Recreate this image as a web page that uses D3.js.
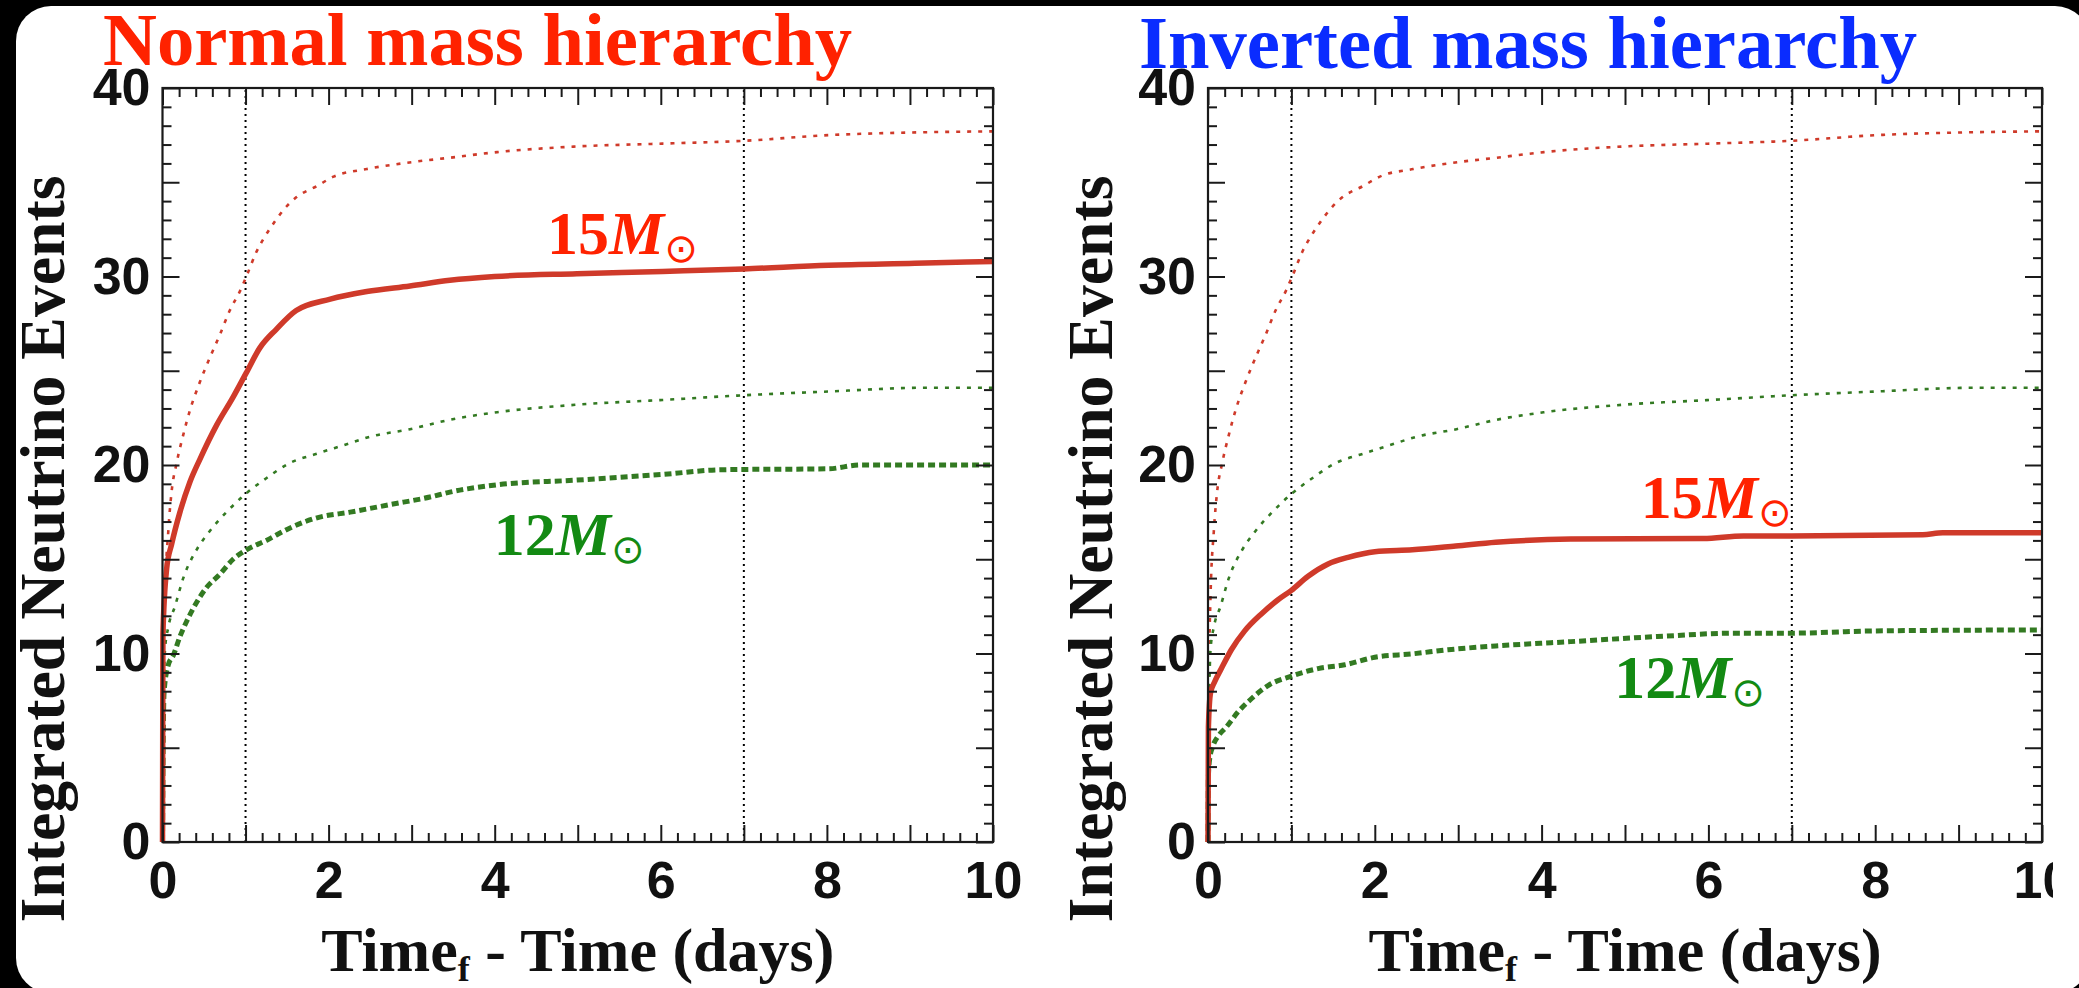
<!DOCTYPE html>
<html>
<head>
<meta charset="utf-8">
<script src="https://cdn.jsdelivr.net/npm/d3@7"></script>
<style>
  html, body { margin: 0; padding: 0; background: #000; }
  svg { display: block; }
</style>
</head>
<body>
<script>
// tick labels and reference markers
const xTickLabels = [0, 2, 4, 6, 8, 10];
const yTickLabels = [0, 10, 20, 30, 40];
const markerDays = [1, 7];
const panelTitles = ['Normal mass hierarchy', 'Inverted mass hierarchy'];
const massNames = ['15', '12'];

// [days, integrated events]; the thin upper curves are the same on both panels
const upperRed15 = [[0, 0], [0.01, 8], [0.03, 13], [0.07, 16.5], [0.11, 18.6], [0.17, 20.1], [0.25, 21.6],
  [0.33, 22.9], [0.45, 24.4], [0.59, 25.9], [0.69, 26.9], [0.81, 28.2], [0.93, 29.2], [1.01, 30.0],
  [1.13, 31.3], [1.23, 32.1], [1.35, 32.9], [1.49, 33.7], [1.61, 34.2], [1.86, 34.8], [2.06, 35.3],
  [2.46, 35.7], [3.06, 36.1], [3.46, 36.3], [4.03, 36.6], [4.99, 36.9], [6.02, 37.05], [7.0, 37.2],
  [8.02, 37.5], [9.14, 37.65], [10, 37.7]];
const upperGreen12 = [[0, 0], [0.01, 6], [0.03, 10.2], [0.07, 11.4], [0.15, 12.5], [0.25, 14.0],
  [0.41, 15.5], [0.57, 16.5], [0.77, 17.5], [1.01, 18.5], [1.25, 19.3], [1.53, 20.1], [1.86, 20.6],
  [2.18, 21.05], [2.5, 21.5], [2.98, 21.9], [3.46, 22.4], [4.03, 22.8], [4.99, 23.2], [6.02, 23.45],
  [7.0, 23.7], [8.02, 23.9], [9.2, 24.1], [10, 24.1]];
const normalRed15 = [[0, 0], [0.005, 11], [0.05, 14.5], [0.11, 15.8], [0.21, 17.5], [0.33, 19.1],
  [0.45, 20.3], [0.65, 22.1], [0.85, 23.6], [1.01, 24.9], [1.17, 26.2], [1.37, 27.2], [1.61, 28.2],
  [2.02, 28.8], [2.46, 29.2], [2.98, 29.5], [3.46, 29.8], [4.0, 30.0], [4.99, 30.15], [6.02, 30.27],
  [7.0, 30.4], [8.02, 30.6], [9.06, 30.7], [10, 30.8]];
const normalGreen12 = [[0, 0], [0.01, 6], [0.02, 8], [0.07, 9.4], [0.13, 9.9], [0.21, 10.9], [0.29, 11.7],
  [0.41, 12.7], [0.53, 13.5], [0.69, 14.2], [0.85, 15.0], [1.01, 15.5], [1.25, 16.0], [1.53, 16.65],
  [1.86, 17.2], [2.26, 17.5], [2.74, 17.9], [3.22, 18.3], [3.46, 18.56], [4.03, 18.95], [4.99, 19.2],
  [6.02, 19.5], [6.74, 19.75], [8.02, 19.8], [8.4, 20.0], [10, 20.0]];
const invertedRed15 = [[0, 0], [0.005, 6.1], [0.03, 7.9], [0.08, 8.5], [0.16, 9.2], [0.28, 10.2],
  [0.44, 11.2], [0.64, 12.1], [0.84, 12.85], [1.0, 13.35], [1.2, 14.1], [1.44, 14.75], [1.68, 15.1],
  [2.0, 15.4], [2.45, 15.5], [2.97, 15.7], [3.45, 15.9], [4.35, 16.07], [5.94, 16.1], [6.42, 16.24],
  [7.0, 16.24], [8.57, 16.3], [8.81, 16.4], [10, 16.4]];
const invertedGreen12 = [[0, 0], [0.005, 3.5], [0.02, 4.4], [0.06, 5.1], [0.12, 5.6], [0.22, 6.1],
  [0.36, 6.9], [0.52, 7.6], [0.72, 8.3], [1.0, 8.8], [1.32, 9.2], [1.64, 9.4], [2.0, 9.8], [2.45, 9.98],
  [2.88, 10.2], [3.45, 10.4], [4.35, 10.63], [5.39, 10.9], [6.34, 11.08], [7.0, 11.08], [8.01, 11.2],
  [10, 11.25]];

const W = 2079;
const H = 988;
const TOP = 88;
const BOTTOM = 842;
const SERIF = '"Liberation Serif", "Times New Roman", serif';
const SANS = '"Liberation Sans", Arial, sans-serif';
const RED = '#cf3a2a';
const GREEN = '#337a22';

const thinDot = {width: 2.6, dash: '4,7'};
const thickDot = {width: 5, dash: '7,4'};

const panels = [
  {
    title: panelTitles[0], titleColor: '#ff2200', titleX: 103, titleY: 65, titleLen: 749,
    left: 162.5, right: 993, yTitleX: 64,
    lines: [
      {data: upperRed15, color: RED, style: thinDot},
      {data: upperGreen12, color: GREEN, style: thinDot},
      {data: normalGreen12, color: GREEN, style: thickDot},
      {data: normalRed15, color: RED, style: {width: 5.5, dash: null}},
    ],
    labels: [
      {name: massNames[0], at: [4.63, 31.2], color: '#ff2200'},
      {name: massNames[1], at: [3.99, 15.2], color: '#138a13'},
    ],
  },
  {
    title: panelTitles[1], titleColor: '#0a2cff', titleX: 1139, titleY: 68, titleLen: 778,
    left: 1208, right: 2042, yTitleX: 1112,
    lines: [
      {data: upperRed15, color: RED, style: thinDot},
      {data: upperGreen12, color: GREEN, style: thinDot},
      {data: invertedGreen12, color: GREEN, style: thickDot},
      {data: invertedRed15, color: RED, style: {width: 5.5, dash: null}},
    ],
    labels: [
      {name: massNames[0], at: [5.19, 17.2], color: '#ff2200'},
      {name: massNames[1], at: [4.87, 7.64], color: '#138a13'},
    ],
  },
];

const svg = d3.select('body').append('svg')
    .attr('width', W)
    .attr('height', H);

svg.append('rect')
    .attr('width', W)
    .attr('height', H)
    .attr('fill', '#000');

svg.append('rect')
    .attr('x', 16)
    .attr('y', 6)
    .attr('width', 2074)
    .attr('height', 987)
    .attr('rx', 35)
    .attr('fill', '#fff');

// the original picture is cut just after the right panel's last tick label
svg.append('clipPath')
    .attr('id', 'crop')
    .append('rect')
    .attr('x', 0)
    .attr('y', 0)
    .attr('width', 2053)
    .attr('height', H);

const root = svg.append('g').attr('clip-path', 'url(#crop)');

const y = d3.scaleLinear().domain([0, 40]).range([BOTTOM, TOP]);
const majorX = d3.range(0, 11, 1);
const minorX = d3.range(1, 50).map((i) => i * 0.2).filter((d) => Math.abs(d - Math.round(d)) > 1e-6);
const majorY = d3.range(0, 41, 5);
const minorY = d3.range(0, 41, 1).filter((d) => d % 5 !== 0);

function styleAxis(g) {
  g.select('.domain').remove();
  g.selectAll('line').attr('stroke', '#1a1a1a').attr('stroke-width', 2);
  g.selectAll('text')
      .attr('font-family', SANS)
      .attr('font-weight', 'bold')
      .attr('font-size', 52)
      .attr('fill', '#111');
}

panels.forEach((p) => {
  const x = d3.scaleLinear().domain([0, 10]).range([p.left, p.right]);
  const g = root.append('g');

  // title
  g.append('text')
      .attr('x', p.titleX)
      .attr('y', p.titleY)
      .attr('textLength', p.titleLen)
      .attr('lengthAdjust', 'spacingAndGlyphs')
      .attr('font-family', SERIF)
      .attr('font-weight', 'bold')
      .attr('font-size', 75)
      .attr('fill', p.titleColor)
      .text(p.title);

  // reference days
  g.selectAll('.marker')
      .data(markerDays)
      .join('line')
      .attr('x1', (d) => x(d))
      .attr('x2', (d) => x(d))
      .attr('y1', BOTTOM)
      .attr('y2', TOP)
      .attr('stroke', '#000')
      .attr('stroke-width', 2)
      .attr('stroke-dasharray', '2,4');

  // curves
  const line = d3.line()
      .x((d) => x(d[0]))
      .y((d) => y(d[1]))
      .curve(d3.curveMonotoneX);

  p.lines.forEach((l) => {
    g.append('path')
        .datum(l.data)
        .attr('d', line)
        .attr('fill', 'none')
        .attr('stroke', l.color)
        .attr('stroke-width', l.style.width)
        .attr('stroke-linejoin', 'round')
        .attr('stroke-dasharray', l.style.dash);
  });

  // axes, ticks pointing inwards
  const bottom = g.append('g').attr('transform', `translate(0,${BOTTOM})`);
  bottom.append('g').call(d3.axisBottom(x).tickValues(minorX).tickSize(-9).tickFormat(''));
  bottom.append('g').call(d3.axisBottom(x).tickValues(majorX).tickSize(-17).tickPadding(19)
      .tickFormat((d) => (xTickLabels.includes(d) ? d : '')));

  const top = g.append('g').attr('transform', `translate(0,${TOP})`);
  top.append('g').call(d3.axisTop(x).tickValues(minorX).tickSize(-9).tickFormat(''));
  top.append('g').call(d3.axisTop(x).tickValues(majorX).tickSize(-17).tickFormat(''));

  const left = g.append('g').attr('transform', `translate(${p.left},0)`);
  left.append('g').call(d3.axisLeft(y).tickValues(minorY).tickSize(-9).tickFormat(''));
  left.append('g').call(d3.axisLeft(y).tickValues(majorY).tickSize(-17).tickPadding(12)
      .tickFormat((d) => (yTickLabels.includes(d) ? d : '')));

  const right = g.append('g').attr('transform', `translate(${p.right},0)`);
  right.append('g').call(d3.axisRight(y).tickValues(minorY).tickSize(-9).tickFormat(''));
  right.append('g').call(d3.axisRight(y).tickValues(majorY).tickSize(-17).tickFormat(''));

  g.selectAll('g').call(styleAxis);

  g.append('rect')
      .attr('x', p.left)
      .attr('y', TOP)
      .attr('width', p.right - p.left)
      .attr('height', BOTTOM - TOP)
      .attr('fill', 'none')
      .attr('stroke', '#1a1a1a')
      .attr('stroke-width', 2.2);

  // mass labels
  p.labels.forEach((lab) => {
    const t = g.append('text')
        .attr('x', x(lab.at[0]))
        .attr('y', y(lab.at[1]))
        .attr('font-family', SERIF)
        .attr('font-weight', 'bold')
        .attr('font-size', 62)
        .attr('fill', lab.color);
    t.append('tspan').text(lab.name);
    t.append('tspan').attr('font-style', 'italic').text('M');
    t.append('tspan')
        .attr('font-family', '"DejaVu Sans", sans-serif')
        .attr('font-weight', 'normal')
        .attr('font-size', 40)
        .attr('dy', 8)
        .text('\u2299');
  });

  // axis titles
  g.append('text')
      .attr('transform', `translate(${p.yTitleX},${(TOP + BOTTOM) / 2 + 84}) rotate(-90)`)
      .attr('text-anchor', 'middle')
      .attr('textLength', 747)
      .attr('lengthAdjust', 'spacingAndGlyphs')
      .attr('font-family', SERIF)
      .attr('font-weight', 'bold')
      .attr('font-size', 64)
      .attr('fill', '#111')
      .text('Integrated Neutrino Events');

  const xt = g.append('text')
      .attr('x', (p.left + p.right) / 2)
      .attr('y', 971)
      .attr('text-anchor', 'middle')
      .attr('font-family', SERIF)
      .attr('font-weight', 'bold')
      .attr('font-size', 62)
      .attr('fill', '#111');
  xt.append('tspan').text('Time');
  xt.append('tspan').attr('font-size', 36).attr('dy', 10).text('f');
  xt.append('tspan').attr('dy', -10).text(' - Time (days)');
});
</script>
</body>
</html>
